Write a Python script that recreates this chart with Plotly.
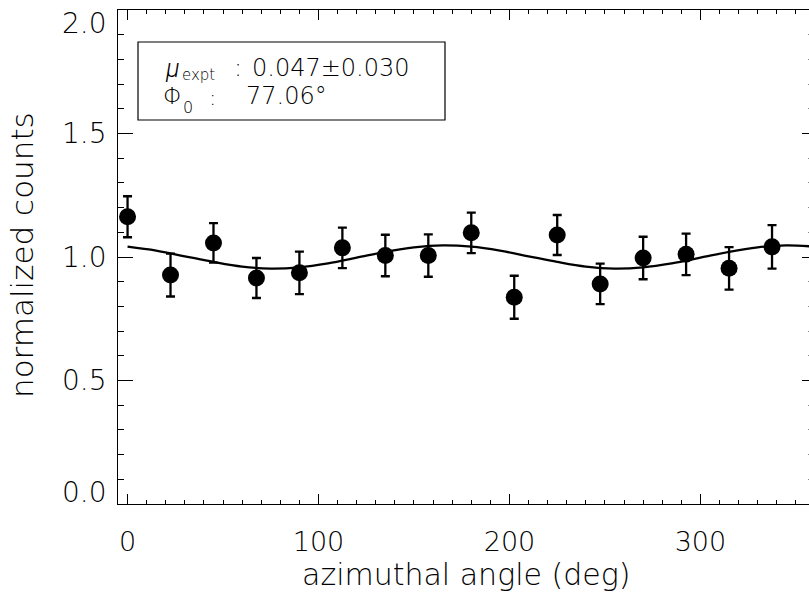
import plotly.graph_objects as go

# ---- data ----
ANGLE = [0, 22.5, 45, 67.5, 90, 112.5, 135, 157.5,
         180, 202.5, 225, 247.5, 270, 292.5, 315, 337.5]
COUNTS = [1.163, 0.927, 1.057, 0.915, 0.936, 1.037, 1.006, 1.006,
          1.098, 0.837, 1.089, 0.891, 0.996, 1.011, 0.954, 1.041]
ERR = [0.083, 0.087, 0.080, 0.081, 0.086, 0.082, 0.084, 0.086,
       0.082, 0.087, 0.081, 0.082, 0.086, 0.084, 0.086, 0.088]

FIT_ANGLE = [0, 15, 30, 45, 60, 75, 90, 105, 120, 135, 150, 165,
             180, 195, 210, 225, 240, 255, 270, 285, 300, 315, 330, 345, 360]
FIT_COUNTS = [1.042, 1.026, 1.003, 0.980, 0.961, 0.953, 0.958, 0.974,
              0.997, 1.021, 1.039, 1.047,
              1.042, 1.026, 1.003, 0.980, 0.961, 0.953, 0.958, 0.974,
              0.997, 1.021, 1.039, 1.047, 1.042]

X_TICKS = [0, 100, 200, 300]
Y_TICKS = [0.0, 0.5, 1.0, 1.5, 2.0]
Y_TICK_TEXT = ["0.0", "0.5", "1.0", "1.5", "2.0"]

MU_LABEL = "0.047±0.030"
PHI_LABEL = "77.06°"

FONT = "DejaVu Sans"
W, H = 809, 598
L, T, B = 118, 10, 94
PW, PH = W - L, H - T - B


def px(xp):
    return (xp - L) / PW


def py(yp):
    return (H - B - yp) / PH


fig = go.Figure()

fig.add_trace(go.Scatter(
    x=FIT_ANGLE, y=FIT_COUNTS, mode="lines",
    line=dict(color="black", width=2.3, shape="spline"),
    hoverinfo="skip", showlegend=False))

fig.add_trace(go.Scatter(
    x=ANGLE, y=COUNTS, mode="markers",
    marker=dict(color="black", size=17),
    error_y=dict(type="data", array=ERR, visible=True,
                 color="black", thickness=2.3, width=4.5),
    showlegend=False))

# invisible trace to carry the right-hand tick axis
fig.add_trace(go.Scatter(
    x=FIT_ANGLE, y=FIT_COUNTS, yaxis="y2", mode="lines",
    line=dict(width=0), opacity=0, hoverinfo="skip", showlegend=False))

fig.update_layout(
    width=W, height=H,
    margin=dict(l=L, r=0, t=T, b=B, pad=0),
    paper_bgcolor="white", plot_bgcolor="white",
    font=dict(family=FONT, color="black", size=26, weight=200),
    xaxis=dict(
        range=[-5, -5 + PW / (697 / 365)],
        tickvals=X_TICKS, ticks="inside", ticklen=10, tickwidth=1,
        tickcolor="black", showline=True, linecolor="black", linewidth=1,
        mirror="ticks", showgrid=False, zeroline=False,
        tickfont=dict(family=FONT, size=27, color="black", weight=200),
        ticklabelstandoff=14,
        minor=dict(dtick=10, tick0=0, ticks="inside", ticklen=4,
                   tickwidth=1, tickcolor="black", showgrid=False),
    ),
    yaxis=dict(
        range=[0, 2], tickvals=Y_TICKS, showticklabels=False,
        ticks="inside", ticklen=15, tickwidth=1, tickcolor="black",
        showline=True, linecolor="black", linewidth=1, mirror=False,
        showgrid=False, zeroline=False,
        minor=dict(dtick=0.1, tick0=0, ticks="inside", ticklen=6,
                   tickwidth=1, tickcolor="black", showgrid=False),
    ),
    yaxis2=dict(
        range=[0, 2], overlaying="y", side="right", tickvals=Y_TICKS,
        showticklabels=False, ticks="inside", ticklen=7, tickwidth=1,
        tickcolor="black", showline=False, showgrid=False, zeroline=False,
        minor=dict(dtick=0.1, tick0=0, ticks="inside", ticklen=1,
                   tickwidth=1, tickcolor="#888", showgrid=False),
    ),
)

annotations = []
# y tick labels (edge labels kept inside the frame, as in the reference)
shifts = {0: 12, 4: -13}
for i, (v, t) in enumerate(zip(Y_TICKS, Y_TICK_TEXT)):
    annotations.append(dict(
        x=0, xref="paper", y=v, yref="y", text=t, showarrow=False,
        xanchor="right", yanchor="middle", xshift=-9,
        yshift=shifts.get(i, 0),
        font=dict(family=FONT, size=28, color="black", weight=200)))

# axis titles
annotations.append(dict(
    x=px(466), y=py(574), xref="paper", yref="paper",
    text="azimuthal angle (deg)", showarrow=False,
    xanchor="center", yanchor="middle",
    font=dict(family=FONT, size=30, color="black", weight=200)))
annotations.append(dict(
    x=px(22), y=py(255), xref="paper", yref="paper",
    text="normalized counts", showarrow=False, textangle=-90,
    xanchor="center", yanchor="middle",
    font=dict(family=FONT, size=31, color="black", weight=200)))

# legend box text
Y1, Y2 = 68, 96
box_font = dict(family=FONT, size=24, color="black", weight=200)
sub_font = dict(family=FONT, size=15, color="black", weight=200)
mu_font = dict(family="Roboto", size=25, color="black", weight=300,
               style="italic")
pieces = [
    ("μ", 164, Y1 + 1, "left", mu_font),
    ("expt", 181, Y1 + 7, "left", sub_font),
    (":", 238, Y1, "center", box_font),
    (MU_LABEL, 251, Y1, "left", box_font),
    ("Φ", 162, Y2, "left", dict(box_font, size=23)),
    ("0", 182, Y2 + 11, "left", dict(sub_font, size=16)),
    (":", 212, Y2 + 1, "center", dict(box_font, size=22)),
    (PHI_LABEL, 245, Y2, "left", box_font),
]
for text, xp, yp, anchor, f in pieces:
    annotations.append(dict(
        x=px(xp), y=py(yp), xref="paper", yref="paper", text=text,
        showarrow=False, xanchor=anchor, yanchor="middle", font=f,
        borderpad=0))

fig.update_layout(annotations=annotations)

fig.add_shape(type="rect", xref="paper", yref="paper",
              x0=px(138), x1=px(445), y0=py(120), y1=py(42),
              line=dict(color="black", width=1.2), fillcolor="rgba(0,0,0,0)")

fig.write_html(
    "out.html",
    config={"displayModeBar": False, "staticPlot": True},
    post_script="document.body.style.margin='0';document.body.style.overflow='hidden';",
)
